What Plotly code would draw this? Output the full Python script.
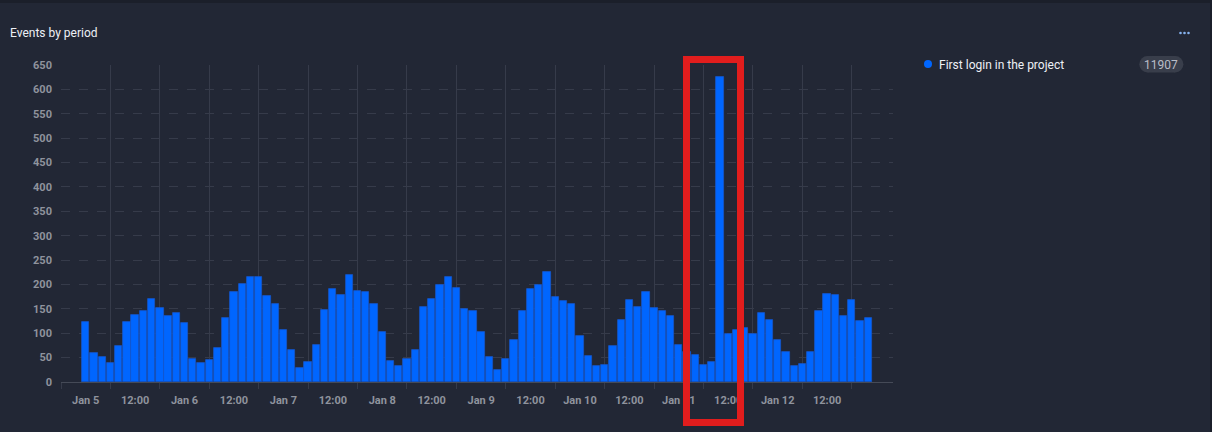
import pandas as pd
import plotly.graph_objects as go

# ---- data ----
series_name = "First login in the project"
total_label = "11907"
start_time = "2025-01-05 00:00"
bin_hours = 2
counts = [
    124, 60, 51, 38, 74, 124, 138, 146, 170, 151, 135, 141,
    122, 48, 38, 46, 69, 131, 185, 201, 216, 215, 176, 160,
    106, 66, 29, 42, 76, 147, 190, 179, 220, 187, 185, 160,
    103, 44, 32, 47, 65, 153, 171, 199, 215, 192, 149, 146,
    102, 51, 24, 47, 87, 146, 190, 198, 225, 175, 167, 159,
    95, 53, 32, 34, 73, 128, 169, 153, 185, 151, 146, 135,
    75, 62, 56, 35, 41, 626, 98, 107, 110, 99, 141, 127,
    86, 61, 33, 36, 61, 145, 181, 179, 135, 168, 126, 132,
]
tick_labels = ["Jan 5", "12:00", "Jan 6", "12:00", "Jan 7", "12:00", "Jan 8", "12:00",
               "Jan 9", "12:00", "Jan 10", "12:00", "Jan 11", "12:00", "Jan 12", "12:00"]
y_ticks = list(range(0, 651, 50))

times = pd.date_range(start_time, periods=len(counts), freq=f"{bin_hours}h")
label_pos = pd.date_range(start_time, periods=len(tick_labels), freq="12h")
grid_pos = pd.date_range(times[0] - pd.Timedelta(hours=6), periods=len(tick_labels) + 1, freq="12h")
x_range = [times[0] - pd.Timedelta(hours=6), times[-1] + pd.Timedelta(hours=6)]

# ---- styling ----
PAGE = "#1b1f2a"
CARD = "#222735"
GRID = "#363b4a"
TICK = "#8f939d"
BAR = "#0066ff"
FONT = "Roboto"

W, H = 1212, 432
L, R, T, B = 61, 893, 65, 382  # plot area in pixels


def px(x):
    return (x - L) / (R - L)


def py(y):
    return (B - y) / (B - T)


fig = go.Figure()
fig.add_trace(go.Bar(
    x=times, y=counts, name=series_name,
    width=bin_hours * 3600 * 1000 * 0.885,
    marker=dict(color=BAR, line=dict(color="#1557cc", width=0.8)),
    hovertemplate="%{x}<br>%{y}<extra></extra>",
))
# carrier for the label axis (draws nothing)
fig.add_trace(go.Scatter(x=times, y=counts, xaxis="x2", mode="none",
                         hoverinfo="skip", showlegend=False))

shapes = [
    # card
    dict(type="rect", xref="paper", yref="paper", x0=px(0), x1=px(1210), y0=py(440), y1=py(3),
         fillcolor=CARD, line=dict(width=0), layer="below"),
    # legend dot
    dict(type="circle", xref="paper", yref="paper", x0=px(924), x1=px(932), y0=py(68), y1=py(60),
         fillcolor=BAR, line=dict(width=0)),
    # badge pill
    dict(type="rect", xref="paper", yref="paper", x0=px(1147.5), x1=px(1175), y0=py(72.5), y1=py(56),
         fillcolor="#393e4b", line=dict(width=0)),
    dict(type="circle", xref="paper", yref="paper", x0=px(1139.3), x1=px(1155.7), y0=py(72.5), y1=py(56),
         fillcolor="#393e4b", line=dict(width=0)),
    dict(type="circle", xref="paper", yref="paper", x0=px(1167), x1=px(1183.4), y0=py(72.5), y1=py(56),
         fillcolor="#393e4b", line=dict(width=0)),
    # red highlight rectangle
    dict(type="rect", xref="paper", yref="paper", x0=px(686.5), x1=px(740.5), y0=py(422.5), y1=py(59.5),
         line=dict(color="#e11d1d", width=7), fillcolor="rgba(0,0,0,0)", layer="above"),
]
# three dots menu
for cx in (1180.5, 1184.5, 1188.5):
    shapes.append(dict(type="circle", xref="paper", yref="paper",
                       x0=px(cx - 1.3), x1=px(cx + 1.3), y0=py(34.3), y1=py(31.7),
                       fillcolor="#86b2ee", line=dict(width=0)))

annotations = [
    dict(text=series_name, xref="paper", yref="paper", x=px(937), y=py(64.5),
         xanchor="left", yanchor="middle", showarrow=False,
         font=dict(family=FONT, size=12, color="#eef0f5")),
    dict(text=total_label, xref="paper", yref="paper", x=px(1161.3), y=py(64.5),
         xanchor="center", yanchor="middle", showarrow=False,
         font=dict(family=FONT, size=12, color="#b9bdc7")),
]

fig.update_layout(
    width=W, height=H, autosize=False,
    paper_bgcolor=PAGE, plot_bgcolor="rgba(0,0,0,0)",
    margin=dict(l=L, r=W - R, t=T, b=H - B, pad=0),
    showlegend=False,
    bargap=0,
    title=dict(text="Events by period", x=10 / W, xref="container", xanchor="left",
               y=1 - 33 / H, yref="container", yanchor="middle",
               font=dict(family=FONT, size=12, color="#eef0f5")),
    font=dict(family=FONT, color=TICK),
    shapes=shapes,
    annotations=annotations,
    xaxis=dict(
        type="date", range=x_range,
        tickmode="array", tickvals=grid_pos, showticklabels=False,
        showgrid=True, gridcolor=GRID, gridwidth=1,
        ticks="outside", ticklen=6, tickcolor=GRID, tickwidth=1,
        showline=True, linecolor="#454a57", linewidth=1,
        zeroline=False, fixedrange=True,
    ),
    xaxis2=dict(
        type="date", range=x_range, overlaying="x", anchor="y", side="bottom",
        tickmode="array", tickvals=label_pos, ticktext=tick_labels,
        showgrid=False, ticks="", showline=False, zeroline=False,
        tickfont=dict(family=FONT, size=11, color=TICK, weight="bold"),
        ticklabelstandoff=10, fixedrange=True,
    ),
    yaxis=dict(
        range=[0, 650], tickmode="array", tickvals=y_ticks,
        showgrid=True, gridcolor=GRID, griddash="dash", gridwidth=1,
        zeroline=False, ticks="", showline=False,
        tickfont=dict(family=FONT, size=11, color=TICK, weight="bold"),
        ticklabelstandoff=8, fixedrange=True,
    ),
)

fig.write_html(
    "out.html",
    config={"displayModeBar": False},
    post_script="document.body.style.margin='0';document.body.style.padding='0';"
                "document.body.style.background='" + PAGE + "';",
)
